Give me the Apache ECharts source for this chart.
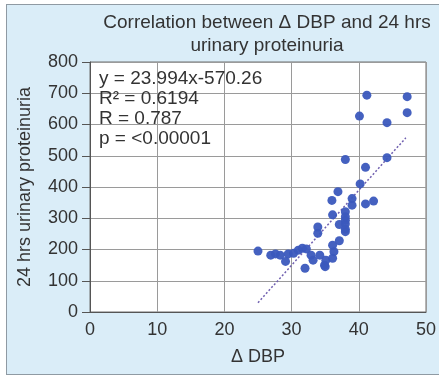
<!DOCTYPE html>
<html>
<head>
<meta charset="utf-8">
<script src="https://cdn.jsdelivr.net/npm/echarts@6/dist/echarts.min.js"></script>
<style>
  html, body { margin: 0; padding: 0; background: #ffffff; overflow: hidden; }
  #frame {
    position: absolute; left: 6px; top: 4px; width: 440px; height: 369px;
    border: 1px solid #8f9aa3; background: #daedf8;
  }
  #chart { position: absolute; left: 0; top: 0; width: 439px; height: 376px; }
</style>
</head>
<body>
<div id="frame"></div>
<div id="chart"></div>
<script>
// Δ DBP (mmHg) vs 24 hrs urinary proteinuria (mg)
const deltaDBP = [
  25.0, 26.9, 27.6, 28.3, 29.1, 29.5, 30.3, 31.0, 31.6, 32.2,
  32.0, 32.9, 33.2, 34.2, 34.9, 35.0, 35.1, 36.1, 36.3, 36.1,
  37.1, 33.9, 33.9, 38.0, 38.0, 37.1, 38.0, 36.1, 38.0, 38.0,
  38.0, 36.0, 39.0, 39.0, 41.0, 42.2, 36.9, 40.2, 41.0, 38.0,
  44.2, 44.2, 40.1, 41.2, 47.2, 47.2
];
const proteinuria = [
  195, 182, 186, 182, 162, 186, 188, 198, 204, 202,
  140, 182, 166, 182, 150, 145, 166, 172, 193, 214,
  228, 252, 272, 257, 265, 280, 282, 311, 294, 305,
  321, 357, 342, 363, 346, 355, 385, 410, 463, 488,
  494, 606, 627, 694, 689, 638
];

// Linear fit reported on the chart
const slope = 23.994;
const intercept = -570.26;
const fitRange = [25, 47];
const statLines = [
  'y = 23.994x-570.26',
  'R² = 0.6194',
  'R = 0.787',
  'p = <0.00001'
];

const xTicks = { min: 0, max: 50, interval: 10 };
const yTicks = { min: 0, max: 800, interval: 100 };

const points = deltaDBP.map((x, i) => [x, proteinuria[i]]);
const fitLine = fitRange.map(x => [x, slope * x + intercept]);

const font = 'Liberation Sans, Arial, sans-serif';
const chart = echarts.init(document.getElementById('chart'), null, { renderer: 'canvas' });

chart.setOption({
  backgroundColor: 'transparent',
  animation: false,
  title: {
    text: 'Correlation between \u0394 DBP and 24 hrs\nurinary proteinuria',
    left: 262,
    top: 6,
    textAlign: 'center',
    textStyle: { fontFamily: font, fontSize: 19, fontWeight: 'normal', color: '#333', lineHeight: 23 }
  },
  grid: {
    left: 90, right: 4, top: 62, bottom: 64,
    show: true, backgroundColor: '#ffffff', borderColor: '#6f6f6f', borderWidth: 1
  },
  xAxis: {
    type: 'value',
    min: xTicks.min, max: xTicks.max, interval: xTicks.interval,
    name: '\u0394 DBP',
    nameLocation: 'middle',
    nameGap: 36,
    nameTextStyle: { fontFamily: font, fontSize: 18, color: '#333' },
    axisLine: { show: true, lineStyle: { color: '#555', width: 1 } },
    axisTick: { show: false },
    axisLabel: { fontFamily: font, fontSize: 18, color: '#333', margin: 9 },
    splitLine: { show: true, lineStyle: { color: '#9a9a9a', width: 1 } }
  },
  yAxis: {
    type: 'value',
    min: yTicks.min, max: yTicks.max, interval: yTicks.interval,
    name: '24 hrs urinary proteinuria',
    nameLocation: 'middle',
    nameGap: 56,
    nameTextStyle: { fontFamily: font, fontSize: 18, color: '#333' },
    axisLine: { show: true, lineStyle: { color: '#555', width: 1 } },
    axisTick: { show: true, inside: false, length: 8, lineStyle: { color: '#555' } },
    axisLabel: { fontFamily: font, fontSize: 18, color: '#333', margin: 12 },
    splitLine: { show: true, lineStyle: { color: '#9a9a9a', width: 1 } }
  },
  graphic: [{
    type: 'text',
    left: 99,
    top: 69,
    z: 10,
    style: {
      text: statLines.join('\n'),
      fontFamily: font,
      fontSize: 19,
      lineHeight: 20,
      fill: '#333'
    }
  }],
  series: [
    {
      type: 'scatter',
      data: points,
      symbol: 'circle',
      symbolSize: 9,
      itemStyle: { color: '#3b59bd', opacity: 0.95 },
      z: 3
    },
    {
      type: 'line',
      data: fitLine,
      symbol: 'none',
      lineStyle: { color: '#7060b0', width: 1.5, type: [2, 2] },
      z: 2
    }
  ]
});
</script>
</body>
</html>
